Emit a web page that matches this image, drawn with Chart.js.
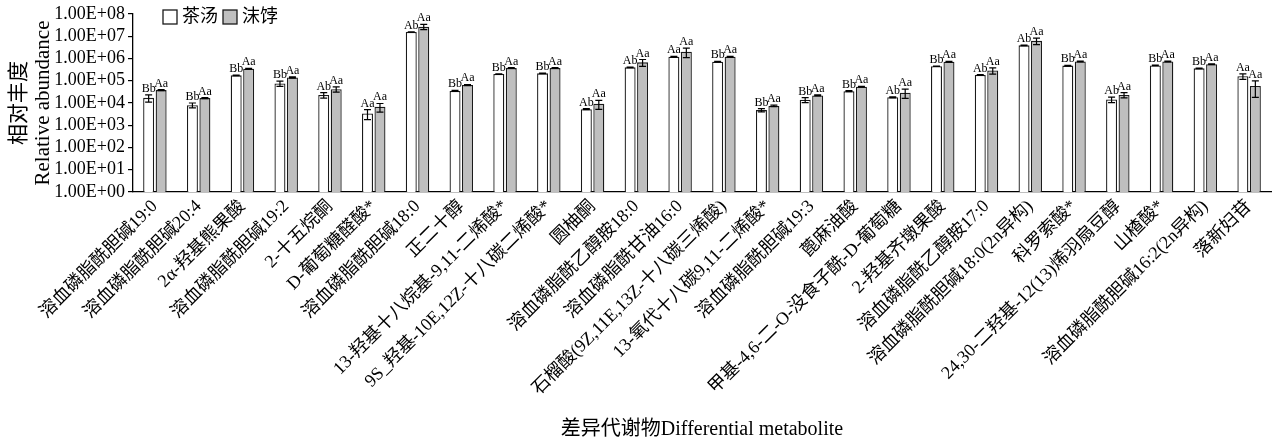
<!DOCTYPE html>
<html>
<head>
<meta charset="utf-8">
<script src="https://cdn.jsdelivr.net/npm/chart.js@4.4.1/dist/chart.umd.min.js"></script>
<style>
  html, body { margin: 0; padding: 0; background: #fff; }
  #wrap { width: 1276px; height: 444px; position: relative; }
</style>
</head>
<body>
<div id="wrap"><canvas id="c" width="1276" height="444"></canvas></div>
<script>
// ---------- DATA ----------
const categories = [
  '溶血磷脂酰胆碱19:0',
  '溶血磷脂酰胆碱20:4',
  '2α-羟基熊果酸',
  '溶血磷脂酰胆碱19:2',
  '2-十五烷酮',
  'D-葡萄糖醛酸*',
  '溶血磷脂酰胆碱18:0',
  '正二十醇',
  '13-羟基十八烷基-9,11-二烯酸*',
  '9S_羟基-10E,12Z-十八碳二烯酸*',
  '圆柚酮',
  '溶血磷脂酰乙醇胺18:0',
  '溶血磷脂酰甘油16:0',
  '石榴酸(9Z,11E,13Z-十八碳三烯酸)',
  '13-氧代十八碳9,11-二烯酸*',
  '溶血磷脂酰胆碱19:3',
  '蓖麻油酸',
  '甲基-4,6-二-O-没食子酰-D-葡萄糖',
  '2-羟基齐墩果酸',
  '溶血磷脂酰乙醇胺17:0',
  '溶血磷脂酰胆碱18:0(2n异构)',
  '科罗索酸*',
  '24,30-二羟基-12(13)烯羽扇豆醇',
  '山楂酸*',
  '溶血磷脂酰胆碱16:2(2n异构)',
  '落新妇苷'
];
const seriesNames = ['茶汤', '沫饽'];
const teaSoup = [1.7e4, 8.0e3, 1.75e5, 7.6e4, 2.3e4, 3.4e3, 1.56e7, 3.5e4, 2.0e5, 2.15e5, 5.3e3, 4.0e5, 1.2e6, 7.2e5, 4.8e3, 1.4e4, 3.4e4, 1.8e4, 4.5e5, 1.8e5, 3.9e6, 4.8e5, 1.45e4, 4.9e5, 3.6e5, 1.6e5];
const foam    = [3.8e4, 1.66e4, 3.5e5, 1.4e5, 4.2e4, 6.7e3, 2.7e7, 6.4e4, 3.7e5, 3.7e5, 9.2e3, 6.7e5, 2.0e6, 1.2e6, 7.4e3, 2.2e4, 5.4e4, 2.9e4, 7.2e5, 2.9e5, 6.2e6, 7.4e5, 2.3e4, 7.4e5, 5.5e5, 5.8e4];
const teaSoupSD = [6e3, 2e3, 5e3, 2e4, 6.5e3, 1.6e3, 3e5, 2e3, 5e3, 5e3, 3e2, 1e4, 4e4, 2e4, 8e2, 3.5e3, 2e3, 1e3, 1e4, 8e3, 1e5, 1e4, 4e3, 1e4, 1e4, 4.5e4];
const foamSD    = [2e3, 1e3, 1.5e4, 8e3, 1.1e4, 2.8e3, 7e6, 4e3, 1.5e4, 1.5e4, 4e3, 2.3e5, 9e5, 4e4, 6e2, 1e3, 1.5e3, 1.3e4, 3e4, 9e4, 2e6, 3e4, 6e3, 3e4, 2e4, 4e4];
const teaSoupSig = ['Bb','Bb','Bb','Bb','Ab','Aa','Ab','Bb','Bb','Bb','Ab','Ab','Aa','Bb','Bb','Bb','Bb','Ab','Bb','Ab','Ab','Bb','Ab','Bb','Bb','Aa'];
const foamSig    = ['Aa','Aa','Aa','Aa','Aa','Aa','Aa','Aa','Aa','Aa','Aa','Aa','Aa','Aa','Aa','Aa','Aa','Aa','Aa','Aa','Aa','Aa','Aa','Aa','Aa','Aa'];
const yTickValues = [1, 10, 100, 1e3, 1e4, 1e5, 1e6, 1e7, 1e8];
const yTitle = ['相对丰度', 'Relative abundance'];
const xTitle = '差异代谢物Differential metabolite';

// ---------- STYLE ----------
const SERIF = "'Liberation Serif', 'Noto Sans CJK SC', serif";
const fills = ['#ffffff', '#bfbfbf'];
const edge = '#1a1a1a';
const errs = [teaSoupSD, foamSD];
const sigs = [teaSoupSig, foamSig];

const errorBarPlugin = {
  id: 'errorBars',
  afterDatasetsDraw(chart) {
    const ctx = chart.ctx;
    const ys = chart.scales.y;
    ctx.save();
    chart.data.datasets.forEach((ds, di) => {
      const meta = chart.getDatasetMeta(di);
      meta.data.forEach((bar, i) => {
        const v = ds.data[i];
        const sd = errs[di][i];
        const yTop = ys.getPixelForValue(v + sd);
        const yBot = ys.getPixelForValue(Math.max(v - sd, 1));
        const x = bar.x;
        const cw = 3.5;
        ctx.strokeStyle = '#000';
        ctx.lineWidth = 1.2;
        ctx.beginPath();
        ctx.moveTo(x, yTop); ctx.lineTo(x, yBot);
        ctx.moveTo(x - cw, yTop); ctx.lineTo(x + cw, yTop);
        ctx.moveTo(x - cw, yBot); ctx.lineTo(x + cw, yBot);
        ctx.stroke();
        ctx.fillStyle = '#000';
        ctx.font = "12px 'Liberation Serif', serif";
        ctx.textAlign = 'center';
        ctx.textBaseline = 'alphabetic';
        ctx.fillText(sigs[di][i], x, yTop - 3);
      });
    });
    ctx.restore();
  }
};

const legendPlugin = {
  id: 'innerLegend',
  afterDraw(chart) {
    const ctx = chart.ctx;
    const area = chart.chartArea;
    ctx.save();
    let x = area.left + 30;
    const y = area.top - 4;
    const box = 14;
    ctx.font = "18px " + SERIF;
    ctx.textBaseline = 'middle';
    ctx.textAlign = 'left';
    chart.data.datasets.forEach((ds) => {
      ctx.fillStyle = ds.backgroundColor;
      ctx.fillRect(x, y, box, box);
      ctx.strokeStyle = edge;
      ctx.lineWidth = 1.3;
      ctx.strokeRect(x, y, box, box);
      x += box + 5;
      ctx.fillStyle = '#000';
      ctx.fillText(ds.label, x, y + box / 2 + 0.5);
      x += ctx.measureText(ds.label).width + 5;
    });
    ctx.restore();
  }
};

const chart = new Chart(document.getElementById('c'), {
  type: 'bar',
  data: {
    labels: categories,
    datasets: [
      { label: seriesNames[0], data: teaSoup, backgroundColor: fills[0], borderColor: edge, borderWidth: 1.3, borderSkipped: 'bottom' },
      { label: seriesNames[1], data: foam, backgroundColor: fills[1], borderColor: edge, borderWidth: 1.3, borderSkipped: 'bottom' }
    ]
  },
  options: {
    responsive: false,
    animation: false,
    devicePixelRatio: 1,
    layout: { padding: { top: 14, right: 5, left: 0, bottom: 0 } },
    datasets: { bar: { categoryPercentage: 0.57, barPercentage: 0.88 } },
    plugins: {
      legend: { display: false },
      tooltip: { enabled: false },
      title: { display: false }
    },
    scales: {
      x: {
        grid: { display: false, drawTicks: false },
        border: { display: true, color: '#000', width: 1.3 },
        ticks: {
          autoSkip: false,
          minRotation: 45,
          maxRotation: 45,
          color: '#000',
          padding: 4,
          font: { family: SERIF, size: 18 }
        },
        title: {
          display: true,
          text: xTitle,
          color: '#000',
          font: { family: SERIF, size: 20, lineHeight: 1.2 },
          padding: { top: 0, bottom: 2 }
        },
        afterFit(scale) {
          scale.height = 252;
          scale.paddingLeft = 0;
          scale.paddingRight = 0;
        }
      },
      y: {
        type: 'logarithmic',
        min: 1,
        max: 1e8,
        afterBuildTicks(scale) {
          scale.ticks = yTickValues.map(v => ({ value: v }));
        },
        grid: { display: true, drawOnChartArea: false, drawTicks: true, tickLength: 5, color: '#000', lineWidth: 1.2 },
        border: { display: true, color: '#000', width: 1.3 },
        ticks: {
          autoSkip: false,
          color: '#000',
          padding: 3,
          font: { family: SERIF, size: 18 },
          callback: (v) => '1.00E+' + String(Math.round(Math.log10(v))).padStart(2, '0')
        },
        title: {
          display: true,
          text: yTitle,
          color: '#000',
          font: { family: SERIF, size: 21, lineHeight: 1.15 },
          padding: { top: 7, bottom: 0 }
        },
        afterFit(scale) {
          scale.width = 133;
          scale.paddingTop = 0;
          scale.paddingBottom = 0;
        }
      }
    }
  },
  plugins: [errorBarPlugin, legendPlugin]
});
</script>
</body>
</html>
